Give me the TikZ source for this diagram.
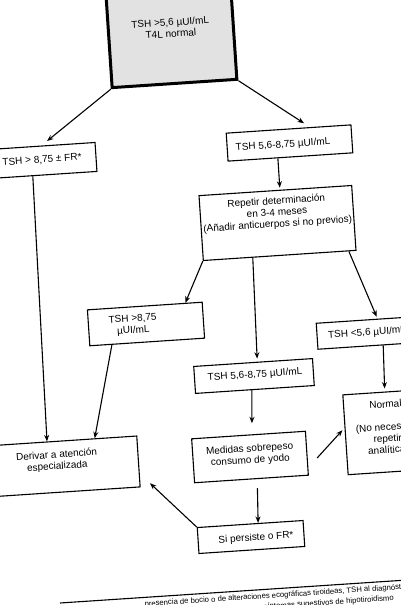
\documentclass[tikz,border=0pt]{standalone}
\usepackage{fontspec}
\setmainfont{Liberation Sans}
\usetikzlibrary{arrows.meta,calc}
\definecolor{boxgray}{RGB}{226,226,226}
\begin{document}
\begin{tikzpicture}[x=1pt,y=-1pt,
  every node/.style={rotate=3.8},
  bx/.style={draw=black, line width=1.1pt, inner sep=0pt},
  topbx/.style={draw=black, line width=3pt, fill=boxgray, inner sep=0pt},
  txt/.style={font=\fontsize{10}{11.5}\selectfont, align=center, inner sep=0pt},
  foot/.style={font=\fontsize{7.7}{9}\selectfont, inner sep=0pt},
  arr/.style={-{Stealth[length=6.5pt,width=5pt]}, line width=1.1pt}]
\useasboundingbox (0,0) rectangle (401,605);
\clip (0,0) rectangle (401,605);

% boxes
\node[topbx, minimum width=125, minimum height=115] (b1) at (170.7,26.1) {};
\node[bx, minimum width=107, minimum height=29] (b2) at (42.6,160.5) {};
\node[bx, minimum width=125, minimum height=28] (b3) at (289.5,143) {};
\node[bx, minimum width=153, minimum height=65] (b4) at (277.5,223) {};
\node[bx, minimum width=115, minimum height=36] (b5) at (146,324) {};
\node[bx, minimum width=119, minimum height=27] (b6) at (254,376) {};
\node[bx, minimum width=98, minimum height=26] (b7) at (366,333) {};
\node[bx, minimum width=84, minimum height=80] (b8) at (387.4,432) {};
\node[bx, minimum width=114, minimum height=44] (b9) at (250,457) {};
\node[bx, minimum width=146, minimum height=51] (b10) at (65.6,466.3) {};
\node[bx, minimum width=106, minimum height=26] (b11) at (251,537) {};

% texts
\node[txt] (t1) at (170.5,28) {TSH >5,6 µUI/mL\\T4L normal};
\node[txt] (t2) at (42,160) {TSH > 8,75 ± FR*};
\node[txt] (t3) at (283,145) {TSH 5,6-8,75 µUI/mL};
\node[txt] (t4) at (277,213) {Repetir determinación\\en 3-4 meses\\(Añadir anticuerpos si no previos)};
\node[txt] (t5) at (133,325) {TSH >8,75\\µUI/mL};
\node[txt] (t6) at (255,375) {TSH 5,6-8,75 µUI/mL};
\node[txt] (t7) at (367,333) {TSH <5,6 µUI/mL};
\node[txt] (t8) at (387,428) {Normal\\[11pt](No necesario\\repetir\\analítica)};
\node[txt] (t9) at (250,455) {Medidas sobrepeso\\consumo de yodo};
\node[txt] (t10) at (57,461) {Derivar a atención\\especializada};
\node[txt] (t11) at (256,538) {Si persiste o FR*};

% connectors
\draw[arr, shorten >=7pt] (b1.south west) -- (b2.north);
\draw[arr, shorten >=7pt] (b1.south east) -- ($(b3.north)!0.34!(b3.north east)$);
\draw[arr, shorten >=2pt] ($(b3.south)!0.2!(b3.south west)$) -- ($(b4.north)!0.06!(b4.north east)$);
\draw[arr] (b4.south west) -- ($(b5.north)!0.7!(b5.north east)$);
\draw[arr, shorten >=3pt] ($(b4.south)!0.35!(b4.south west)$) -- ($(b6.north)!0.07!(b6.north east)$);
\draw[arr, shorten >=2pt] ($(b4.south)!0.9!(b4.south east)$) -- ($(b7.north)!0.25!(b7.north east)$);
\draw[arr, shorten >=3pt] ($(b7.south)!0.33!(b7.south east)$) -- (b8.north);
\draw[arr] ($(b2.south)!0.2!(b2.south west)$) -- ($(b10.north)!0.23!(b10.north west)$);
\draw[arr] ($(b5.south)!0.61!(b5.south west)$) -- ($(b10.north)!0.42!(b10.north east)$);
\draw[arr, shorten >=11pt] ($(b6.south)!0.05!(b6.south west)$) -- ($(b9.north)!0.06!(b9.north east)$);
\draw[arr, shorten <=13pt, shorten >=3pt] ($(b9.east)!0.64!(b9.south east)$) -- ($(b8.west)!0.17!(b8.north west)$);
\draw[arr, shorten <=9pt] ($(b9.south)!0.1!(b9.south east)$) -- ($(b11.north)!0.15!(b11.north east)$);
\draw[arr, shorten >=14pt] (b11.north west) -- ($(b10.east)!0.47!(b10.south east)$);

% footer
\draw[line width=1.1pt] (60,603) -- (410,579.8);
\node[foot, anchor=base west] (f1) at (180,604.2) {\llap{presencia }de bocio o de alteraciones ecográficas tiroideas, TSH al diagnóstico};
\node[foot, anchor=base east] (f2) at (394,600.5) {síntomas sugestivos de hipotiroidismo};
\end{tikzpicture}
\end{document}
